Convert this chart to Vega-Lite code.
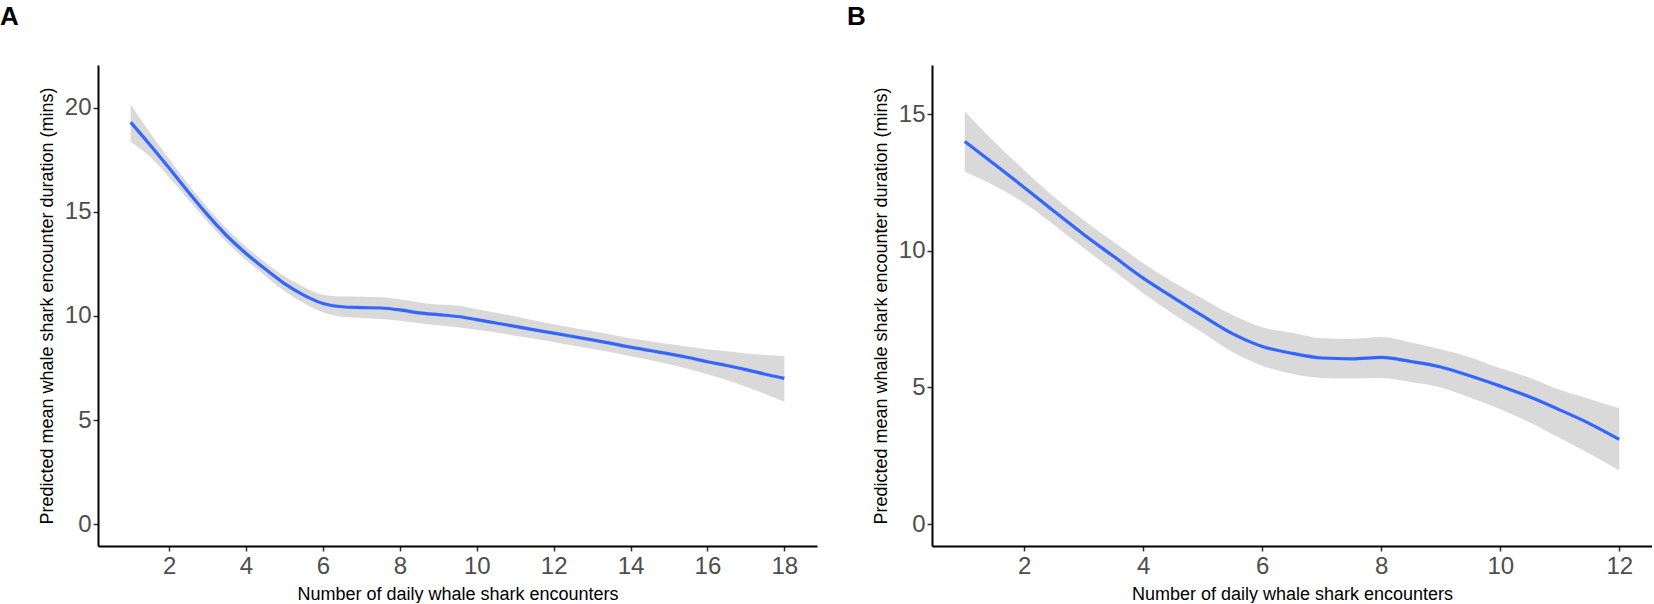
{
  "$schema": "https://vega.github.io/schema/vega-lite/v6.json",
  "background": "white",
  "padding": {"left": 0, "top": 4, "right": 0, "bottom": 0},
  "config": {
    "view": {"stroke": null},
    "font": "Liberation Sans",
    "concat": {"spacing": 30},
    "axis": {
      "grid": false,
      "domainColor": "black",
      "domainWidth": 2,
      "tickColor": "#333333",
      "tickWidth": 1.5,
      "tickSize": 5,
      "format": "d",
      "labelFont": "Liberation Sans",
      "labelFontSize": 24,
      "labelColor": "#4D4D4D",
      "labelOverlap": false,
      "labelFlush": false,
      "titleFont": "Liberation Sans",
      "titleFontSize": 18,
      "titleFontWeight": "normal",
      "titleColor": "black"
    },
    "axisX": {"labelPadding": 3, "titlePadding": 7},
    "axisY": {"labelPadding": 2, "titlePadding": 8}
  },
  "datasets": {
    "a": [
      {"n": 1, "fit": 19.3, "lo": 18.35, "hi": 20.15},
      {"n": 1.5, "fit": 18.22, "lo": 17.65, "hi": 18.8},
      {"n": 2, "fit": 17.1, "lo": 16.66, "hi": 17.55},
      {"n": 2.5, "fit": 15.95, "lo": 15.59, "hi": 16.32},
      {"n": 3, "fit": 14.85, "lo": 14.52, "hi": 15.19},
      {"n": 3.5, "fit": 13.85, "lo": 13.53, "hi": 14.18},
      {"n": 4, "fit": 13.0, "lo": 12.68, "hi": 13.32},
      {"n": 4.5, "fit": 12.25, "lo": 11.92, "hi": 12.58},
      {"n": 5, "fit": 11.55, "lo": 11.2, "hi": 11.9},
      {"n": 5.5, "fit": 11.0, "lo": 10.62, "hi": 11.39},
      {"n": 6, "fit": 10.6, "lo": 10.17, "hi": 11.02},
      {"n": 6.5, "fit": 10.44, "lo": 9.96, "hi": 10.93},
      {"n": 7, "fit": 10.4, "lo": 9.9, "hi": 10.92},
      {"n": 7.5, "fit": 10.38, "lo": 9.85, "hi": 10.9},
      {"n": 8, "fit": 10.29, "lo": 9.77, "hi": 10.8},
      {"n": 8.5, "fit": 10.15, "lo": 9.65, "hi": 10.65},
      {"n": 9, "fit": 10.06, "lo": 9.55, "hi": 10.55},
      {"n": 9.5, "fit": 9.97, "lo": 9.45, "hi": 10.5},
      {"n": 10, "fit": 9.82, "lo": 9.33, "hi": 10.32},
      {"n": 10.5, "fit": 9.66, "lo": 9.2, "hi": 10.15},
      {"n": 11, "fit": 9.5, "lo": 9.05, "hi": 9.97},
      {"n": 11.5, "fit": 9.33, "lo": 8.9, "hi": 9.78},
      {"n": 12, "fit": 9.17, "lo": 8.75, "hi": 9.6},
      {"n": 12.5, "fit": 9.01, "lo": 8.58, "hi": 9.43},
      {"n": 13, "fit": 8.85, "lo": 8.42, "hi": 9.27},
      {"n": 13.5, "fit": 8.68, "lo": 8.25, "hi": 9.1},
      {"n": 14, "fit": 8.5, "lo": 8.06, "hi": 8.93},
      {"n": 14.5, "fit": 8.34, "lo": 7.88, "hi": 8.78},
      {"n": 15, "fit": 8.18, "lo": 7.68, "hi": 8.65},
      {"n": 15.5, "fit": 8.0, "lo": 7.45, "hi": 8.52},
      {"n": 16, "fit": 7.8, "lo": 7.2, "hi": 8.4},
      {"n": 16.5, "fit": 7.62, "lo": 6.92, "hi": 8.3},
      {"n": 17, "fit": 7.42, "lo": 6.6, "hi": 8.2},
      {"n": 17.5, "fit": 7.2, "lo": 6.25, "hi": 8.12},
      {"n": 18, "fit": 7.0, "lo": 5.88, "hi": 8.08}
    ],
    "b": [
      {"n": 1, "fit": 14.0, "lo": 12.9, "hi": 15.1},
      {"n": 1.5, "fit": 13.17, "lo": 12.38, "hi": 13.98},
      {"n": 2, "fit": 12.32, "lo": 11.75, "hi": 12.95},
      {"n": 2.5, "fit": 11.45, "lo": 10.95, "hi": 11.98},
      {"n": 3, "fit": 10.6, "lo": 10.1, "hi": 11.12},
      {"n": 3.5, "fit": 9.8, "lo": 9.28, "hi": 10.33},
      {"n": 4, "fit": 9.0, "lo": 8.45, "hi": 9.55},
      {"n": 4.5, "fit": 8.3, "lo": 7.7, "hi": 8.86},
      {"n": 5, "fit": 7.62, "lo": 7.0, "hi": 8.25},
      {"n": 5.5, "fit": 6.97, "lo": 6.3, "hi": 7.65},
      {"n": 6, "fit": 6.5, "lo": 5.8, "hi": 7.2},
      {"n": 6.5, "fit": 6.25, "lo": 5.5, "hi": 7.0},
      {"n": 7, "fit": 6.08, "lo": 5.35, "hi": 6.8},
      {"n": 7.5, "fit": 6.05, "lo": 5.33, "hi": 6.78},
      {"n": 8, "fit": 6.1, "lo": 5.35, "hi": 6.85},
      {"n": 8.5, "fit": 5.95, "lo": 5.2, "hi": 6.65},
      {"n": 9, "fit": 5.75, "lo": 5.0, "hi": 6.4},
      {"n": 9.5, "fit": 5.42, "lo": 4.62, "hi": 6.1},
      {"n": 10, "fit": 5.05, "lo": 4.2, "hi": 5.7},
      {"n": 10.5, "fit": 4.65, "lo": 3.72, "hi": 5.35},
      {"n": 11, "fit": 4.18, "lo": 3.15, "hi": 4.92},
      {"n": 11.5, "fit": 3.68, "lo": 2.58, "hi": 4.58},
      {"n": 12, "fit": 3.1, "lo": 1.96, "hi": 4.24}
    ]
  },
  "hconcat": [
    {
      "title": {"text": "A", "anchor": "start", "frame": "group", "dx": -98, "fontSize": 26, "fontWeight": "bold", "font": "Liberation Sans", "color": "black", "baseline": "alphabetic", "offset": 14},
      "width": 719,
      "height": 481,
      "data": {"name": "a"},
      "layer": [
        {
          "mark": {"type": "area", "color": "#999999", "opacity": 0.37, "interpolate": "monotone"},
          "encoding": {
            "x": {"field": "n", "type": "quantitative", "scale": {"domain": [0.15, 18.85], "nice": false, "zero": false}, "axis": {"values": [2, 4, 6, 8, 10, 12, 14, 16, 18], "title": "Number of daily whale shark encounters"}},
            "y": {"field": "lo", "type": "quantitative", "scale": {"domain": [-1.05, 22.05], "nice": false, "zero": false}, "axis": {"values": [0, 5, 10, 15, 20], "title": "Predicted mean whale shark encounter duration (mins)"}},
            "y2": {"field": "hi"}
          }
        },
        {
          "mark": {"type": "line", "color": "#3366FF", "strokeWidth": 3.2, "interpolate": "monotone"},
          "encoding": {
            "x": {"field": "n", "type": "quantitative"},
            "y": {"field": "fit", "type": "quantitative"}
          }
        }
      ]
    },
    {
      "title": {"text": "B", "anchor": "start", "frame": "group", "dx": -85, "fontSize": 26, "fontWeight": "bold", "font": "Liberation Sans", "color": "black", "baseline": "alphabetic", "offset": 14},
      "width": 720,
      "height": 481,
      "data": {"name": "b"},
      "layer": [
        {
          "mark": {"type": "area", "color": "#999999", "opacity": 0.37, "interpolate": "monotone"},
          "encoding": {
            "x": {"field": "n", "type": "quantitative", "scale": {"domain": [0.45, 12.55], "nice": false, "zero": false}, "axis": {"values": [2, 4, 6, 8, 10, 12], "title": "Number of daily whale shark encounters"}},
            "y": {"field": "lo", "type": "quantitative", "scale": {"domain": [-0.8, 16.8], "nice": false, "zero": false}, "axis": {"values": [0, 5, 10, 15], "title": "Predicted mean whale shark encounter duration (mins)"}},
            "y2": {"field": "hi"}
          }
        },
        {
          "mark": {"type": "line", "color": "#3366FF", "strokeWidth": 3.2, "interpolate": "monotone"},
          "encoding": {
            "x": {"field": "n", "type": "quantitative"},
            "y": {"field": "fit", "type": "quantitative"}
          }
        }
      ]
    }
  ]
}
